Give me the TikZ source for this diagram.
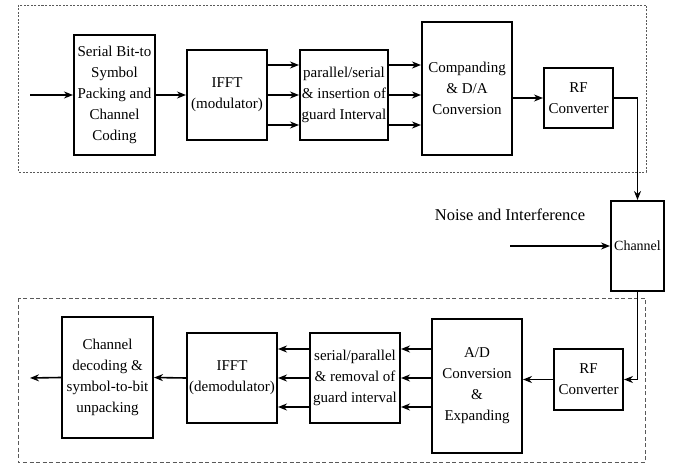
\documentclass[tikz,border=0pt]{standalone}
\usepackage{fontspec}
\setmainfont{Liberation Serif}
\usetikzlibrary{arrows.meta}

\begin{document}
\begin{tikzpicture}[x=1pt, y=-1pt,
    blk/.style={draw, line width=2pt, align=center, inner sep=1pt,
        font=\fontsize{15}{21}\selectfont},
    link/.style={line width=1.6pt, -{Stealth[length=9pt,width=7pt]}},
    frame/.style={draw=black!65, line width=0.9pt}]
    \useasboundingbox (0,0) rectangle (675,465);

    % Transmitter
    \draw[frame, dash pattern=on 2pt off 1.5pt] (18,5) rectangle (646,172);
    \node[blk, minimum width=81pt, minimum height=120pt] (enc) at (114.5,95)
        {Serial Bit-to\\Symbol\\Packing and\\Channel\\Coding};
    \node[blk, minimum width=80pt, minimum height=90pt] (ifftm) at (227,95)
        {IFFT\\(modulator)};
    \node[blk, minimum width=88pt, minimum height=90pt] (ps) at (344,95)
        {parallel/serial\\\& insertion of\\guard Interval};
    \node[blk, minimum width=90pt, minimum height=133pt] (comp) at (467,88.5)
        {Companding\\\& D/A\\Conversion};
    \node[blk, minimum width=69pt, minimum height=60pt] (rfa) at (578.5,98)
        {RF\\Converter};
    \coordinate (src) at (30,95);

    \draw[link] (src) -- (enc.west);
    \draw[link] (enc.east) -- (ifftm.west);
    \foreach \s in {-30,0,30} {
        \draw[link] ([yshift=\s pt]ifftm.east) -- ([yshift=\s pt]ps.west);
        \draw[link] ([yshift=\s pt]ps.east) -- ([yshift=\s pt]comp.west |- ps.east);
    }
    \draw[link] (comp.east |- rfa.west) -- (rfa.west);

    % Channel
    \node[blk, font=\fontsize{14}{16}\selectfont, inner sep=0pt,
        minimum width=53pt, minimum height=90pt] (chan) at (637.5,246) {Channel};
    \node[font=\fontsize{16.5}{19}\selectfont] (noise) at (510,215) {Noise and Interference};
    \coordinate (nsrc) at (510,246);
    \draw[link] (rfa.east) -| (chan.north);
    \draw[link] (nsrc) -- (chan.west);

    % Receiver
    \draw[frame, dash pattern=on 4pt off 2.5pt] (18,298) rectangle (645,462);
    \node[blk, minimum width=69pt, minimum height=61pt] (rfb) at (588.5,379.5)
        {RF\\Converter};
    \node[blk, minimum width=90pt, minimum height=134pt] (ad) at (477,386)
        {A/D\\Conversion\\\&\\Expanding};
    \node[blk, minimum width=90pt, minimum height=90pt] (sp) at (355,378)
        {serial/parallel\\\& removal of\\guard interval};
    \node[blk, minimum width=90pt, minimum height=90pt] (ifftd) at (232,378)
        {IFFT\\(demodulator)};
    \node[blk, minimum width=91pt, minimum height=121pt] (dec) at (107.5,377.5)
        {Channel\\decoding \&\\symbol-to-bit\\unpacking};
    \coordinate (sink) at (30,378);

    \draw[link] (chan.south) |- (rfb.east);
    \draw[link] (rfb.west) -- (ad.east |- rfb.west);
    \foreach \s in {-29,0,29} {
        \draw[link] ([yshift=\s pt]ad.west |- sp.east) -- ([yshift=\s pt]sp.east);
        \draw[link] ([yshift=\s pt]sp.west) -- ([yshift=\s pt]ifftd.east);
    }
    \draw[link] (ifftd.west) -- (dec.east);
    \draw[link] (dec.west) -- (sink);
\end{tikzpicture}
\end{document}
